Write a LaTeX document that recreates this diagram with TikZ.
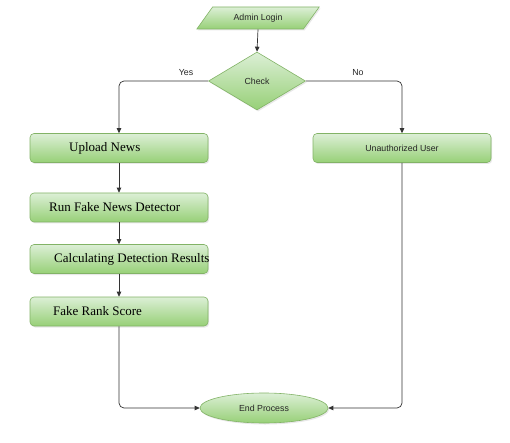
\documentclass[tikz,border=0pt]{standalone}
\usepackage{fontspec}
\setmainfont{Liberation Serif}
\newfontfamily\arialfont{Liberation Sans}
\usetikzlibrary{shapes.geometric,arrows.meta,shadows}
\definecolor{gtop}{HTML}{DCEFD6}
\definecolor{gbot}{HTML}{97D077}
\definecolor{gline}{HTML}{82B366}
\definecolor{lnk}{HTML}{333333}
\tikzset{
  greenfill/.style={top color=gtop, bottom color=gbot, draw=gline, line width=0.6pt,
    drop shadow={opacity=0.18, shadow xshift=1.2pt, shadow yshift=-1.5pt}},
  procbox/.style={greenfill, rounded corners=4pt, minimum width=178pt, minimum height=29pt, inner sep=0pt},
  sanslbl/.style={font=\arialfont\fontsize{8.8}{10}\selectfont, text=black!85},
  seriflbl/.style={font=\fontsize{13}{15}\selectfont, anchor=west, inner sep=0pt},
  arr/.style={draw=lnk, line width=0.7pt, -{Triangle[length=5pt,width=4.5pt]}},
}
\begin{document}
\begin{tikzpicture}[x=1pt,y=-1pt]
\useasboundingbox (0,0) rectangle (510,443);
% start
\node[greenfill, trapezium, trapezium left angle=44, trapezium right angle=136,
  trapezium stretches=true, minimum width=123pt, minimum height=22pt, inner sep=0pt,
  sanslbl] (login) at (258,18) {Admin Login};
\node[greenfill, diamond, minimum width=97pt, minimum height=58pt, inner sep=0pt, sanslbl]
  (check) at (257,81) {Check};
% left column
\node[procbox] (upload) at (119,148) {};
\node[procbox] (run) at (119,207.5) {};
\node[procbox] (calc) at (119,259) {};
\node[procbox] (fake) at (119,311.5) {};
\node[seriflbl] (tupload) at (69,148) {Upload News};
\node[seriflbl] (trun) at (49,207.5) {Run Fake News Detector};
\node[seriflbl] (tcalc) at (54,259) {Calculating Detection Results};
\node[seriflbl] (tfake) at (53,311.5) {Fake Rank Score};
% right
\node[procbox, sanslbl] (unauth) at (402,148) {Unauthorized User};
% end
\node[greenfill, ellipse, minimum width=128pt, minimum height=30pt, inner sep=0pt, sanslbl]
  (endp) at (264,408) {End Process};
% connectors
\draw[arr] (login.south) -- (check.north);
\draw[arr, rounded corners=5pt] (check.west) -| (upload.north);
\draw[arr, rounded corners=5pt] (check.east) -| (unauth.north);
\node[sanslbl] (yes) at (186,73) {Yes};
\node[sanslbl] (no) at (358,73) {No};
\draw[arr] (upload.south) -- (run.north);
\draw[arr] (run.south) -- (calc.north);
\draw[arr] (calc.south) -- (fake.north);
\draw[arr, rounded corners=5pt] (fake.south) |- (endp.west);
\draw[arr, rounded corners=5pt] (unauth.south) |- (endp.east);
\end{tikzpicture}
\end{document}
